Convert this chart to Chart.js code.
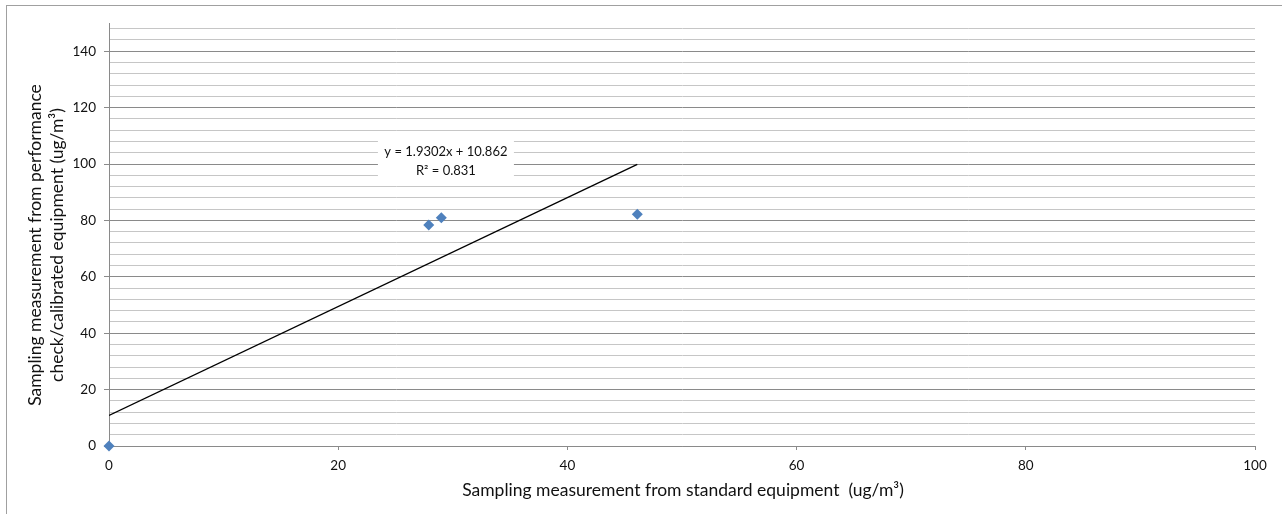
<!DOCTYPE html>
<html>
<head>
<meta charset="utf-8">
<script src="https://cdn.jsdelivr.net/npm/chart.js@4.4.1/dist/chart.umd.min.js"></script>
<style>
  html, body { margin: 0; padding: 0; background: #fff; }
  #wrap { width: 1282px; height: 514px; position: relative; }
</style>
</head>
<body>
<div id="wrap"><canvas id="c" width="1282" height="514"></canvas></div>
<script>
// ---- data ----
const xValues = [0, 27.9, 29.0, 46.1];
const yValues = [0, 78.4, 80.9, 82.2];
const trendSlope = 1.9302;
const trendIntercept = 10.862;
const trendX = [0, 46.1];
const trendLabel = ['y = 1.9302x + 10.862', 'R² = 0.831'];
const xTitle = 'Sampling measurement from standard equipment  (ug/m³)';
const yTitle = ['Sampling measurement from performance', 'check/calibrated equipment (ug/m³)'];
const yMajorStep = 20;
const yMinorStep = 4;
const yMax = 150;
const xMax = 100;
const xStep = 20;

const FONT = 'Lato, "Liberation Sans", sans-serif';
const MAJOR = '#8a8a8a';
const MINOR = '#c6c6c6';
const TEXT = '#111';

const points = xValues.map((x, i) => ({ x: x, y: yValues[i] }));
const trend = trendX.map(x => ({ x: x, y: trendSlope * x + trendIntercept }));

const decor = {
  id: 'decor',
  beforeDraw(chart) {
    const ctx = chart.ctx;
    ctx.save();
    ctx.fillStyle = '#fff';
    ctx.fillRect(0, 0, chart.width, chart.height);
    ctx.strokeStyle = '#a0a0a0';
    ctx.lineWidth = 1;
    ctx.strokeRect(6.5, 5.5, 1400, 600);
    ctx.restore();
  },
  afterDraw(chart) {
    const ctx = chart.ctx;
    ctx.save();
    ctx.fillStyle = TEXT;
    ctx.font = '17.5px ' + FONT;
    ctx.textAlign = 'center';
    ctx.textBaseline = 'middle';
    // x-axis title
    ctx.fillText(xTitle, 683, 490);
    // y-axis title (rotated)
    ctx.save();
    ctx.translate(35, 245);
    ctx.rotate(-Math.PI / 2);
    ctx.fillText(yTitle[0], 0, 0);
    ctx.fillText(yTitle[1], 0, 22);
    ctx.restore();
    ctx.restore();
  },
  afterDatasetsDraw(chart) {
    const ctx = chart.ctx;
    const xs = chart.scales.x, ys = chart.scales.y;
    const cx = xs.getPixelForValue(29.4);
    const cy = ys.getPixelForValue(105);
    ctx.save();
    ctx.fillStyle = '#fff';
    ctx.fillRect(cx - 68, cy - 11, 136, 42);
    ctx.fillStyle = TEXT;
    ctx.font = '13px ' + FONT;
    ctx.textAlign = 'center';
    ctx.textBaseline = 'middle';
    ctx.fillText(trendLabel[0], cx, cy + 2);
    ctx.fillText(trendLabel[1], cx, cy + 21);
    ctx.restore();
  }
};

new Chart(document.getElementById('c'), {
  type: 'scatter',
  data: {
    datasets: [
      {
        label: 'trend',
        type: 'line',
        data: trend,
        borderColor: '#000',
        borderWidth: 1.3,
        pointRadius: 0,
        showLine: true,
        fill: false,
        order: 2
      },
      {
        label: 'points',
        data: points,
        pointStyle: 'rectRot',
        pointRadius: 5.5,
        backgroundColor: '#4f81bd',
        borderColor: '#4f81bd',
        borderWidth: 0,
        order: 1,
        clip: false
      }
    ]
  },
  options: {
    responsive: false,
    animation: false,
    devicePixelRatio: 1,
    layout: { padding: { top: 23, right: 27, left: 0, bottom: 0 } },
    plugins: { legend: { display: false }, tooltip: { enabled: false } },
    scales: {
      x: {
        type: 'linear',
        min: 0, max: xMax,
        ticks: { stepSize: xStep, color: TEXT, font: { family: FONT, size: 13.5 }, padding: 8, maxRotation: 0 },
        grid: { drawOnChartArea: false, drawTicks: true, tickLength: 4, tickColor: MAJOR },
        border: { display: true, color: MAJOR, width: 1 },
        title: { display: false },
        afterFit(s) { s.height = 68; }
      },
      y: {
        type: 'linear',
        min: 0, max: yMax,
        afterBuildTicks(s) {
          const t = [];
          for (let v = 0; v < yMax; v += yMinorStep) t.push({ value: v });
          s.ticks = t;
        },
        ticks: {
          color: TEXT, font: { family: FONT, size: 13.5 }, padding: 8,
          autoSkip: false,
          callback: v => (v % yMajorStep === 0 ? String(v) : '')
        },
        grid: {
          color: c => (c.tick && c.tick.value % yMajorStep === 0 ? MAJOR : MINOR),
          tickColor: c => (c.tick && c.tick.value % yMajorStep === 0 ? MAJOR : 'rgba(0,0,0,0)'),
          tickLength: 5,
          lineWidth: 1
        },
        border: { display: true, color: MAJOR, width: 1 },
        title: { display: false },
        afterFit(s) { s.width = 109; }
      }
    }
  },
  plugins: [decor]
});
</script>
</body>
</html>
